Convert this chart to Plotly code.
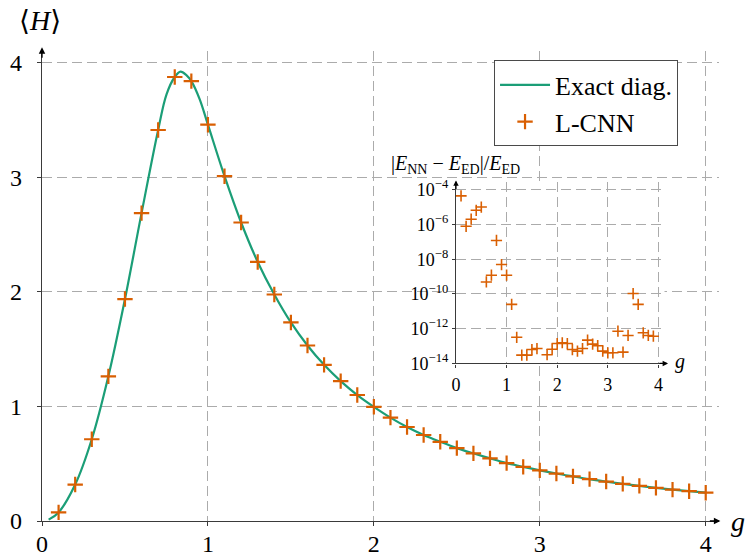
import plotly.graph_objects as go

# ---- data -------------------------------------------------------------
# L-CNN energies <H> at the sampled couplings g
g_nn = [0.1, 0.2, 0.3, 0.4, 0.5, 0.6, 0.7, 0.8, 0.9, 1.0,
        1.1, 1.2, 1.3, 1.4, 1.5, 1.6, 1.7, 1.8, 1.9, 2.0,
        2.1, 2.2, 2.3, 2.4, 2.5, 2.6, 2.7, 2.8, 2.9, 3.0,
        3.1, 3.2, 3.3, 3.4, 3.5, 3.6, 3.7, 3.8, 3.9, 4.0]
h_nn = [0.075, 0.318, 0.713, 1.262, 1.936, 2.686, 3.411, 3.873, 3.837, 3.457,
        3.008, 2.604, 2.260, 1.976, 1.732, 1.531, 1.362, 1.220, 1.099, 0.996,
        0.902, 0.820, 0.750, 0.691, 0.636, 0.590, 0.546, 0.505, 0.472, 0.442,
        0.414, 0.389, 0.365, 0.344, 0.324, 0.306, 0.289, 0.274, 0.260, 0.247]

# exact diagonalisation curve
g_ed = [0.04, 0.1, 0.2, 0.3, 0.4, 0.5, 0.6, 0.7, 0.75, 0.8, 0.835, 0.87, 0.9, 0.95,
        1.0, 1.1, 1.2, 1.3, 1.4, 1.5, 1.6, 1.7, 1.8, 1.9, 2.0,
        2.1, 2.2, 2.3, 2.4, 2.5, 2.6, 2.7, 2.8, 2.9, 3.0,
        3.1, 3.2, 3.3, 3.4, 3.5, 3.6, 3.7, 3.8, 3.9, 4.0]
h_ed = [0.012, 0.075, 0.318, 0.713, 1.262, 1.936, 2.686, 3.411, 3.72, 3.873, 3.92, 3.89, 3.837, 3.68,
        3.457, 3.008, 2.604, 2.260, 1.976, 1.732, 1.531, 1.362, 1.220, 1.099, 0.996,
        0.902, 0.820, 0.750, 0.691, 0.636, 0.590, 0.546, 0.505, 0.472, 0.442,
        0.414, 0.389, 0.365, 0.344, 0.324, 0.306, 0.289, 0.274, 0.260, 0.247]

# relative error |E_NN - E_ED| / E_ED (None: not shown on the log scale)
rel_err = [4.4e-5, 7.8e-7, 2.0e-6, 6.5e-6, 1.0e-5, 4.9e-10, 1.2e-9, 1.2e-7, 4.9e-9, 1.2e-9,
           2.5e-11, 3.2e-13, 3.0e-14, 3.0e-14, 6.3e-14, 7.2e-14, None, 3.2e-14, 6.6e-14, 1.4e-13,
           1.55e-13, 1.4e-13, 6.3e-14, 5.1e-14, 7.2e-14, 2.2e-13, 1.3e-13, 1.05e-13, 5.1e-14, 4.1e-14,
           4.1e-14, 7.2e-13, 4.5e-14, 4.1e-13, 1.05e-10, 2.5e-11, 5.8e-13, 4.1e-13, 3.7e-13, None]

main_ticks = [0, 1, 2, 3, 4]
inset_yticks = [1e-14, 1e-12, 1e-10, 1e-8, 1e-6, 1e-4]
inset_yticktext = ["10<sup>−14</sup>", "10<sup>−12</sup>", "10<sup>−10</sup>",
                   "10<sup>−8</sup>", "10<sup>−6</sup>", "10<sup>−4</sup>"]

# ---- style ------------------------------------------------------------
GREEN = "#1b9e77"
ORANGE = "#d95f02"
GRID = "#ababab"
AXIS = "#3a3a3a"
FONT = "Liberation Serif, DejaVu Serif, Times New Roman, serif"

fig = go.Figure()

fig.add_trace(go.Scatter(
    x=g_ed, y=h_ed, mode="lines", name="Exact diag.",
    line=dict(color=GREEN, width=2.2, shape="spline", smoothing=1.0),
    xaxis="x", yaxis="y"))

fig.add_trace(go.Scatter(
    x=g_nn, y=h_nn, mode="markers", name="L-CNN",
    marker=dict(symbol="cross-thin", size=11, color=ORANGE,
                line=dict(width=2.2, color=ORANGE)),
    xaxis="x", yaxis="y"))

fig.add_trace(go.Scatter(
    x=g_nn, y=rel_err, mode="markers", showlegend=False,
    marker=dict(symbol="cross-thin", size=8, color=ORANGE,
                line=dict(width=1.6, color=ORANGE)),
    xaxis="x2", yaxis="y2"))

axis_common = dict(
    showgrid=True, gridcolor=GRID, griddash="10px,5px", gridwidth=1.2,
    showline=True, linecolor=AXIS, linewidth=1.3,
    ticks="outside", tickcolor=AXIS, tickwidth=1.2,
    zeroline=False, color="black", automargin=False,
)

fig.update_layout(
    width=746, height=556, autosize=False,
    margin=dict(l=42, r=27, t=50.5, b=35, autoexpand=False),
    paper_bgcolor="white", plot_bgcolor="white",
    font=dict(family=FONT, color="black"),
    xaxis=dict(domain=[0, 1], range=[0, 4.08], tickvals=main_ticks,
               ticklen=4, ticklabelstandoff=-3,
               tickfont=dict(size=24, family=FONT), **axis_common),
    yaxis=dict(domain=[0, 1], range=[0, 4.1], tickvals=main_ticks,
               ticklen=4, ticklabelstandoff=10,
               tickfont=dict(size=24, family=FONT), **axis_common),
    xaxis2=dict(domain=[0.6115, 0.9195], range=[0, 4.12], anchor="y2",
                tickvals=main_ticks, ticklen=3, ticklabelstandoff=2,
                tickfont=dict(size=18, family=FONT), **axis_common),
    yaxis2=dict(domain=[0.3352, 0.7216], type="log", range=[-14, -3.55],
                anchor="x2", tickvals=inset_yticks, ticktext=inset_yticktext,
                ticklen=3, ticklabelstandoff=0,
                tickfont=dict(size=18, family=FONT), **axis_common),
    legend=dict(x=0.6677, y=0.98, xanchor="left", yanchor="top",
                bgcolor="white", bordercolor="#4a4a4a", borderwidth=1,
                font=dict(size=26, family=FONT, color="black"),
                itemwidth=50, tracegroupgap=0),
    showlegend=True,
)

# opaque background behind the inset axes
fig.add_shape(type="rect", xref="x2", yref="y2", x0=0, x1=4.12, y0=-14, y1=-3.55,
              fillcolor="white", line=dict(width=0), layer="below")

annotations = [
    # axis titles
    dict(text="⟨<i>H</i>⟩", xref="paper", yref="paper", x=-0.003, y=1.0648,
         xanchor="center", yanchor="middle", showarrow=False,
         font=dict(size=28, family=FONT)),
    dict(text="<i>g</i>", xref="paper", yref="paper", x=1.028, y=0.0,
         xanchor="center", yanchor="middle", showarrow=False,
         font=dict(size=28, family=FONT)),
    dict(text="|<i>E</i><sub>NN</sub> − <i>E</i><sub>ED</sub>|/<i>E</i><sub>ED</sub>",
         xref="paper", yref="paper", x=0.6115, y=0.7588,
         xanchor="center", yanchor="middle", showarrow=False,
         font=dict(size=20, family=FONT)),
    dict(text="<i>g</i>", xref="paper", yref="paper", x=0.9424, y=0.3385,
         xanchor="center", yanchor="middle", showarrow=False,
         font=dict(size=20, family=FONT)),
    # arrow heads on the axes
    dict(text="", xref="x domain", yref="y domain", x=1.002, y=0, ax=-12, ay=0,
         showarrow=True, arrowhead=2, arrowsize=1, arrowwidth=1.3, arrowcolor="black",
         standoff=0),
    dict(text="", xref="x domain", yref="y domain", x=0, y=1.008, ax=0, ay=12,
         showarrow=True, arrowhead=2, arrowsize=1, arrowwidth=1.3, arrowcolor="black",
         standoff=0),
    dict(text="", xref="x2 domain", yref="y2 domain", x=1.017, y=0, ax=-10, ay=0,
         showarrow=True, arrowhead=2, arrowsize=0.9, arrowwidth=1.2, arrowcolor="black",
         standoff=0),
    dict(text="", xref="x2 domain", yref="y2 domain", x=0, y=1.008, ax=0, ay=10,
         showarrow=True, arrowhead=2, arrowsize=0.9, arrowwidth=1.2, arrowcolor="black",
         standoff=0),
]
fig.update_layout(annotations=annotations)

fig.write_html("out.html")
